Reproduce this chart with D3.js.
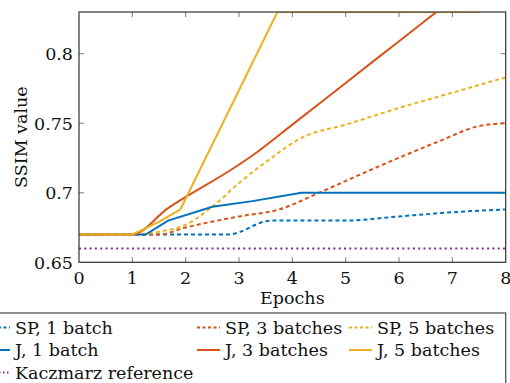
<!DOCTYPE html>
<meta charset="utf-8">
<style>
body { margin: 0; background: white; }
svg { display: block; }
text { font-family: "DejaVu Serif", serif; fill: #111; }
</style>
<body>
<script src="https://d3js.org/d3.v7.min.js"></script>
<script>
// data
var xTicks = [0, 1, 2, 3, 4, 5, 6, 7, 8];
var yTicks = [0.65, 0.7, 0.75, 0.8];

var sp1X = [0, 1, 2, 2.8, 3.6, 5, 6, 7, 8];
var sp1Y = [0.67, 0.67, 0.67, 0.67, 0.68, 0.68, 0.683, 0.686, 0.688];
var sp3X = [0, 1, 1.5, 2, 3, 3.75, 4.5, 5.5, 6.75, 7.5, 8];
var sp3Y = [0.67, 0.67, 0.67, 0.675, 0.683, 0.688, 0.70, 0.717, 0.737, 0.748, 0.75];
var sp5X = [0, 1, 1.5, 2, 2.5, 3, 3.5, 4.2, 5, 6, 7, 8];
var sp5Y = [0.67, 0.67, 0.672, 0.677, 0.69, 0.707, 0.722, 0.740, 0.749, 0.761, 0.772, 0.783];
var j1X = [0, 1, 1.25, 1.67, 2.5, 3.25, 4.17, 5, 6, 7, 8];
var j1Y = [0.67, 0.67, 0.67, 0.68, 0.69, 0.694, 0.70, 0.70, 0.70, 0.70, 0.70];
var j3X = [0, 1, 1.67, 2, 2.83, 3.33, 4, 5, 6, 7, 8];
var j3Y = [0.67, 0.67, 0.689, 0.697, 0.716, 0.729, 0.749, 0.779, 0.809, 0.839, 0.869];
var j5X = [0, 1, 1.5, 1.9, 3.72, 4, 5, 6, 7, 7.5];
var j5Y = [0.67, 0.67, 0.679, 0.688, 0.83, 0.83, 0.83, 0.83, 0.83, 0.83];
var kX = [0, 8];
var kY = [0.66, 0.66];

var names = ["SP, 1 batch", "SP, 3 batches", "SP, 5 batches",
             "J, 1 batch", "J, 3 batches", "J, 5 batches", "Kaczmarz reference"];

var blue = "#0072BD", red = "#D95319", yellow = "#EDB120", purple = "#7E2F8E";

var series = [
  {name: names[0], x: sp1X, y: sp1Y, color: blue, dash: "4,3", smooth: true},
  {name: names[1], x: sp3X, y: sp3Y, color: red, dash: "4,3", smooth: true},
  {name: names[2], x: sp5X, y: sp5Y, color: yellow, dash: "4,3", smooth: true},
  {name: names[3], x: j1X, y: j1Y, color: blue, dash: null, smooth: false},
  {name: names[4], x: j3X, y: j3Y, color: red, dash: null, smooth: true},
  {name: names[5], x: j5X, y: j5Y, color: yellow, dash: null, smooth: false},
  {name: names[6], x: kX, y: kY, color: purple, dash: "2,3.3", smooth: false}
];

var width = 510, height = 383;
var pLeft = 79, pRight = 505.7, pTop = 12, pBottom = 262.3;
var fs = 17.5;

var svg = d3.select("body").append("svg")
    .attr("width", width)
    .attr("height", height);

var x = d3.scaleLinear().domain([0, 8]).range([pLeft, pRight]);
var y = d3.scaleLinear().domain([0.65, 0.83]).range([pBottom, pTop]);

svg.append("clipPath").attr("id", "plotclip")
  .append("rect")
    .attr("x", pLeft).attr("y", pTop)
    .attr("width", pRight - pLeft).attr("height", pBottom - pTop);

// tick marks pointing inward on all four sides
var tickLen = 5;
var grid = svg.append("g").attr("stroke", "#777").attr("stroke-width", 1);
xTicks.slice(1, -1).forEach(function(t) {
  grid.append("line").attr("x1", x(t)).attr("x2", x(t)).attr("y1", pBottom).attr("y2", pBottom - tickLen);
  grid.append("line").attr("x1", x(t)).attr("x2", x(t)).attr("y1", pTop).attr("y2", pTop + tickLen);
});
yTicks.slice(1).forEach(function(t) {
  grid.append("line").attr("x1", pLeft).attr("x2", pLeft + tickLen).attr("y1", y(t)).attr("y2", y(t));
  grid.append("line").attr("x1", pRight).attr("x2", pRight - tickLen).attr("y1", y(t)).attr("y2", y(t));
});

// lines
var smoothLine = d3.line().curve(d3.curveMonotoneX);
var straightLine = d3.line();
var plot = svg.append("g").attr("clip-path", "url(#plotclip)");
series.forEach(function(s) {
  var pts = s.x.map(function(v, i) { return [x(v), y(s.y[i])]; });
  plot.append("path")
      .attr("d", (s.smooth ? smoothLine : straightLine)(pts))
      .attr("fill", "none")
      .attr("stroke", s.color)
      .attr("stroke-width", 2)
      .attr("stroke-dasharray", s.dash);
});

// axis box
svg.append("rect")
    .attr("x", pLeft).attr("y", pTop)
    .attr("width", pRight - pLeft).attr("height", pBottom - pTop)
    .attr("fill", "none").attr("stroke", "#333").attr("stroke-width", 1.2);

// tick labels
svg.selectAll(".xt").data(xTicks).enter().append("text")
    .attr("x", function(d) { return x(d); })
    .attr("y", 283.5)
    .attr("text-anchor", "middle")
    .attr("font-size", fs)
    .text(function(d) { return d; });

svg.selectAll(".yt").data(yTicks).enter().append("text")
    .attr("x", 73)
    .attr("y", function(d) { return y(d) + 6.5; })
    .attr("text-anchor", "end")
    .attr("font-size", fs)
    .text(function(d) { return d; });

svg.append("text")
    .attr("x", (pLeft + pRight) / 2).attr("y", 304)
    .attr("text-anchor", "middle")
    .attr("font-size", fs)
    .text("Epochs");

svg.append("text")
    .attr("transform", "translate(27," + ((pTop + pBottom) / 2) + ") rotate(-90)")
    .attr("text-anchor", "middle")
    .attr("font-size", fs)
    .text("SSIM value");

// legend, three columns filled row by row
var legend = svg.append("g");
legend.append("rect")
    .attr("x", -20).attr("y", 313)
    .attr("width", pRight + 20).attr("height", 100)
    .attr("fill", "white").attr("stroke", "#444").attr("stroke-width", 1.2);

var colX = [-13, 197, 349];
var rowY = [327.5, 350, 372.5];
series.forEach(function(s, i) {
  var cx = colX[i % 3], cy = rowY[Math.floor(i / 3)];
  legend.append("line")
      .attr("x1", cx).attr("x2", cx + 23)
      .attr("y1", cy).attr("y2", cy)
      .attr("stroke", s.color)
      .attr("stroke-width", 2)
      .attr("stroke-dasharray", s.dash ? (s.dash === "4,3" ? "3,2.5" : "1.5,2.5") : null);
  legend.append("text")
      .attr("x", cx + 28).attr("y", cy + 6)
      .attr("font-size", fs)
      .text(s.name);
});
</script>
</body>
